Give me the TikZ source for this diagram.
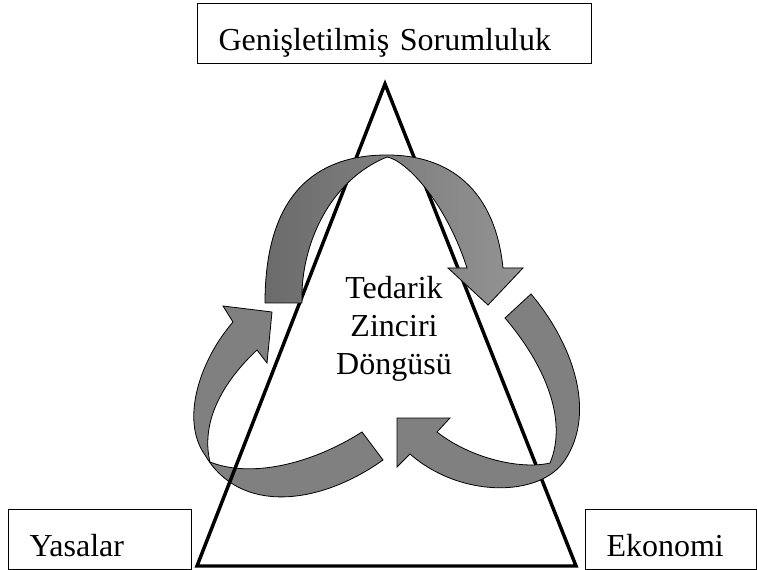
\documentclass[tikz,border=0pt]{standalone}
\usepackage{fontspec}
\setmainfont{Liberation Serif}
\usepackage{tikz}
\usetikzlibrary{positioning,calc}
\tikzset{
  box/.style={draw, line width=0.8pt, anchor=north west, align=left,
    minimum height=45pt, inner xsep=15.75pt, text height=26pt, text depth=0pt,
    font=\fontsize{24}{28}\selectfont},
  tri/.style={line width=2.6pt, line join=miter},
  band/.style={draw=black, line width=0.6pt, fill=black!50},
}
\newcommand{\lbox}[4]{\node [box, text width=#3] (#1) at (#2) {#4}}

\begin{document}
\begin{tikzpicture}[x=0.75pt, y=-0.75pt]
\useasboundingbox (0,0) rectangle (757,570);

\lbox{gs}{197,3}{264pt}{Genişletilmiş Sorumluluk};
\lbox{yas}{8,509}{105.75pt}{Yasalar};
\lbox{eko}{585,509}{96.75pt}{Ekonomi};

\coordinate (T) at (385,84);
\coordinate (L) at (197,566);
\coordinate (R) at (576,566);

% left arrow, behind the triangle
\filldraw[band] (383,460) .. controls (320,505) and (240,515) .. (205,455)
  .. controls (180,420) and (200,360) .. (233,322)
  -- (223,306) -- (272,312) -- (267,363) -- (257,350)
  .. controls (225,380) and (200,420) .. (210,462)
  .. controls (250,478) and (310,465) .. (362,432) -- cycle;

\draw[tri] (T) -- (L) -- (R) -- cycle;

% top arrow
\filldraw[band, left color=black!58, right color=black!42]
  (265,303) -- (302,303)
  .. controls (300,245) and (330,180) .. (387,157)
  .. controls (405,160) and (445,200) .. (467,268)
  -- (448,268) -- (488,305) -- (523,268) -- (503,268)
  .. controls (495,190) and (450,155) .. (387,155)
  .. controls (315,155) and (265,195) .. (265,303) -- cycle;

% right arrow
\filldraw[band] (531,294) .. controls (570,340) and (598,410) .. (565,460)
  .. controls (540,498) and (460,498) .. (410,454)
  -- (397,467) -- (397,418) -- (450,418) -- (437,432)
  .. controls (470,458) and (520,470) .. (550,463)
  .. controls (568,420) and (545,365) .. (505,318) -- cycle;

\node [align=center, font=\fontsize{24}{28.5}\selectfont] (tzd) at (394,329) {Tedarik\\Zinciri\\Döngüsü};

\end{tikzpicture}
\end{document}
